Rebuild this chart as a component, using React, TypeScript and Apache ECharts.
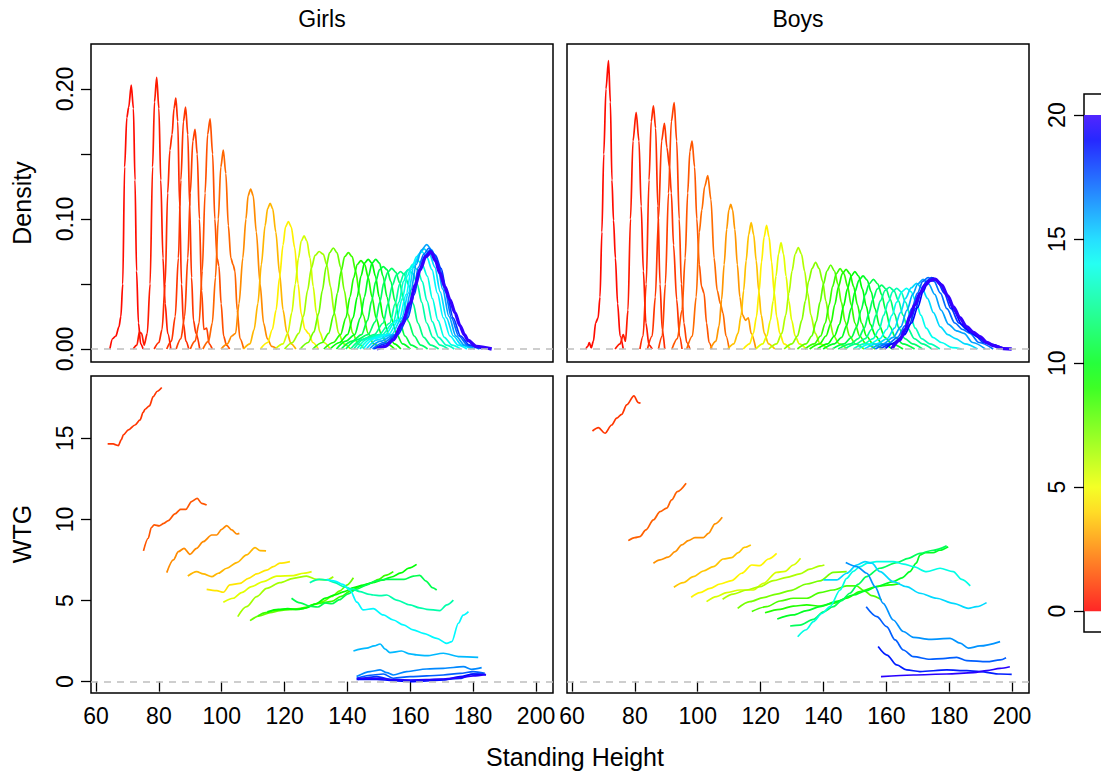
import { useEffect, useRef } from "react";
import * as echarts from "echarts";

type Pt = [number, number];

const FONT = "'Liberation Sans', Arial, Helvetica, sans-serif";

// ---------- axis ticks / labels ----------
const xTicks = [60, 80, 100, 120, 140, 160, 180, 200];
const xRange = [58.4, 205.4];
const densityTicks = [0, 0.05, 0.1, 0.15, 0.2];
const densityLabels = [0, 0.1, 0.2];
const densityRange = [-0.01, 0.2346];
const wtgTicks = [0, 5, 10, 15];
const wtgRange = [-0.7, 18.84];
const colorbarTicks = [0, 5, 10, 15, 20];
const colorbarRange = [0, 20];
const colorbarAxisRange = [-0.84, 20.85];
const colorbarLevels = [0, 1, 2, 3, 4, 5, 6, 7, 8, 9, 10, 11, 12, 13, 14, 15, 16, 17, 18, 19, 20];
const panelTitles = ["Girls", "Boys"];
const rowTitles = ["Density", "WTG"];
const xTitle = "Standing Height";

// ---------- Girls: density curves (x = height, y = density) ----------
const girlsDensityAge = [0.2, 0.5, 0.8, 1.0, 1.2, 1.5, 1.9, 2.6, 3.4, 4.5, 5.6, 6.5, 7.4, 8.3, 9.0, 9.6, 10.2, 10.8, 11.4, 12.0, 12.6, 13.2, 13.8, 14.4, 15.0, 16.0, 17.0, 18.0, 20.0];
const girlsDensity: Pt[][] = [
  [[64.4,0],[65.3,0.008],[66.3,0.010],[67.3,0.017],[67.9,0.025],[68.5,0.05],[69.1,0.14],[69.8,0.178],[70.4,0.186],[71.2,0.203],[71.9,0.185],[72.4,0.13],[72.9,0.06],[73.5,0.02],[74.2,0.004],[75.0,0]],
  [[71.8,0],[73.0,0.003],[73.8,0.013],[74.5,0.012],[75.3,0.003],[76.3,0.012],[77.2,0.05],[78.0,0.14],[78.6,0.19],[79.3,0.209],[80.0,0.185],[80.6,0.13],[81.3,0.07],[82.0,0.035],[82.8,0.012],[83.8,0]],
  [[78.5,0],[80.0,0.005],[81.0,0.015],[82.0,0.05],[82.8,0.12],[83.5,0.153],[84.2,0.165],[84.8,0.185],[85.4,0.193],[86.0,0.175],[86.6,0.11],[87.2,0.05],[87.8,0.02],[88.6,0.006],[89.5,0]],
  [[82.5,0],[84.0,0.006],[85.2,0.025],[86.2,0.07],[87.0,0.13],[87.8,0.175],[88.5,0.186],[89.2,0.165],[89.8,0.11],[90.4,0.055],[91.0,0.022],[91.8,0.012],[93.0,0]],
  [[85.5,0],[87.0,0.008],[88.2,0.025],[89.2,0.07],[90.0,0.12],[90.8,0.16],[91.5,0.169],[92.2,0.15],[92.9,0.1],[93.6,0.045],[94.3,0.015],[95.2,0.016],[96.0,0.004],[97.0,0]],
  [[90.0,0],[91.5,0.006],[92.8,0.02],[93.8,0.06],[94.7,0.12],[95.5,0.165],[96.3,0.177],[97.1,0.15],[97.8,0.1],[98.5,0.07],[99.1,0.064],[99.8,0.035],[100.6,0.01],[101.5,0.003],[102.5,0]],
  [[94.0,0],[95.8,0.006],[97.0,0.02],[98.0,0.055],[98.9,0.1],[99.7,0.14],[100.5,0.153],[101.3,0.135],[102.1,0.095],[102.9,0.07],[103.6,0.065],[104.2,0.06],[104.9,0.03],[105.8,0.008],[107.0,0]],
  [[99.8,0],[101.8,0.004],[103.2,0.01],[104.4,0.012],[105.5,0.035],[106.7,0.07],[107.7,0.1],[108.4,0.118],[109.2,0.123],[110.0,0.118],[111.0,0.09],[112.2,0.05],[113.3,0.02],[114.5,0.008],[115.9,0.002],[117.6,0]],
  [[106.9,0],[109.0,0.004],[110.3,0.015],[111.5,0.035],[112.6,0.065],[113.8,0.095],[114.6,0.108],[115.4,0.112],[116.2,0.108],[117.2,0.09],[118.4,0.058],[119.5,0.03],[120.7,0.013],[122.1,0.004],[123.6,0]],
  [[112.3,0],[114.6,0.005],[116.1,0.015],[117.3,0.03],[118.4,0.055],[119.5,0.08],[120.3,0.094],[121.2,0.098],[122.1,0.094],[123.2,0.078],[124.3,0.05],[125.3,0.027],[126.5,0.015],[127.6,0.012],[129.0,0.005],[130.7,0]],
  [[117.0,0],[119.5,0.004],[121.0,0.012],[122.3,0.028],[123.4,0.05],[124.4,0.07],[125.3,0.083],[126.2,0.087],[127.1,0.083],[128.1,0.07],[129.1,0.048],[130.1,0.028],[131.2,0.013],[132.5,0.005],[134.5,0]],
  [[120.0,0],[122.5,0.005],[124.5,0.012],[126.0,0.025],[127.3,0.045],[128.5,0.062],[129.7,0.072],[131.0,0.075],[132.3,0.073],[133.4,0.065],[134.6,0.048],[135.8,0.028],[137.2,0.012],[138.8,0.004],[141.0,0]],
  [[125.0,0],[127.5,0.005],[129.3,0.013],[130.8,0.027],[132.0,0.045],[133.2,0.063],[134.3,0.074],[135.5,0.0777],[136.7,0.074],[137.8,0.063],[139.0,0.045],[140.2,0.027],[141.7,0.012],[143.3,0.004],[145.5,0]],
  [[129.0,0],[132.0,0.005],[134.0,0.012],[135.6,0.026],[136.8,0.043],[138.0,0.06],[139.1,0.071],[140.3,0.0741],[141.5,0.071],[142.6,0.06],[143.8,0.043],[145.0,0.026],[146.6,0.012],[148.3,0.004],[150.5,0]],
  [[132.5,0],[135.5,0.005],[137.8,0.011],[139.5,0.024],[140.8,0.04],[142.0,0.055],[143.1,0.065],[144.3,0.068],[145.5,0.065],[146.6,0.055],[147.8,0.04],[149.1,0.024],[150.8,0.011],[152.6,0.004],[155.0,0]],
  [[134.5,0],[137.5,0.005],[140.0,0.011],[141.8,0.024],[143.1,0.04],[144.3,0.056],[145.4,0.066],[146.6,0.069],[147.8,0.066],[148.9,0.056],[150.1,0.04],[151.4,0.024],[153.1,0.011],[154.9,0.004],[157.0,0]],
  [[136.5,0],[139.5,0.006],[142.3,0.011],[144.1,0.024],[145.4,0.04],[146.7,0.056],[147.8,0.066],[149.0,0.069],[150.2,0.066],[151.3,0.056],[152.6,0.04],[153.9,0.024],[155.7,0.011],[157.5,0.004],[160.0,0]],
  [[138.0,0],[141.5,0.006],[144.5,0.011],[146.4,0.022],[147.7,0.037],[149.0,0.052],[150.2,0.061],[151.4,0.0634],[152.6,0.061],[153.8,0.052],[155.1,0.037],[156.5,0.022],[158.3,0.01],[160.3,0.003],[162.5,0]],
  [[139.5,0],[143.0,0.007],[146.5,0.011],[148.9,0.021],[150.3,0.036],[151.6,0.051],[152.8,0.059],[154.1,0.062],[155.4,0.059],[156.6,0.051],[158.0,0.036],[159.4,0.021],[161.2,0.01],[163.3,0.003],[165.5,0]],
  [[141.0,0],[144.5,0.007],[148.5,0.011],[151.4,0.02],[152.9,0.035],[154.3,0.049],[155.6,0.057],[156.9,0.0595],[158.2,0.057],[159.5,0.049],[160.9,0.035],[162.4,0.02],[164.3,0.009],[166.5,0.003],[169.0,0]],
  [[142.0,0],[145.5,0.008],[150.0,0.011],[153.5,0.02],[155.2,0.035],[156.6,0.05],[158.0,0.058],[159.4,0.061],[160.8,0.058],[162.2,0.05],[163.6,0.036],[165.2,0.02],[167.2,0.009],[169.5,0.003],[172.0,0]],
  [[143.0,0],[146.5,0.008],[151.0,0.011],[154.5,0.02],[156.4,0.036],[157.8,0.052],[159.3,0.061],[160.8,0.064],[162.3,0.061],[163.8,0.052],[165.3,0.037],[167.0,0.021],[169.0,0.009],[171.5,0.003],[174.0,0]],
  [[144.0,0],[147.5,0.008],[152.0,0.011],[155.5,0.022],[157.5,0.039],[159.0,0.056],[160.6,0.065],[162.2,0.0685],[163.8,0.065],[165.4,0.056],[167.0,0.039],[168.8,0.022],[170.8,0.009],[173.3,0.003],[176.0,0]],
  [[145.0,0],[148.5,0.008],[153.0,0.011],[156.5,0.023],[158.7,0.042],[160.3,0.061],[162.0,0.071],[163.6,0.075],[165.2,0.071],[166.9,0.061],[168.6,0.043],[170.5,0.024],[172.6,0.01],[175.2,0.003],[178.0,0]],
  [[146.0,0],[149.5,0.007],[154.0,0.011],[157.3,0.024],[159.4,0.043],[161.1,0.063],[162.8,0.073],[164.4,0.077],[166.1,0.073],[167.8,0.063],[169.5,0.044],[171.5,0.024],[173.7,0.01],[176.3,0.003],[179.5,0]],
  [[147.0,0],[150.5,0.006],[155.0,0.011],[158.2,0.025],[160.2,0.045],[161.9,0.065],[163.5,0.076],[165.2,0.0803],[166.9,0.076],[168.6,0.065],[170.3,0.046],[172.3,0.025],[174.5,0.01],[177.2,0.003],[180.5,0]],
  [[148.0,0],[151.5,0.005],[155.5,0.011],[158.8,0.024],[160.9,0.043],[162.6,0.063],[164.3,0.073],[165.9,0.0775],[167.6,0.073],[169.3,0.063],[171.1,0.044],[173.1,0.024],[175.4,0.01],[178.2,0.003],[182.0,0]],
  [[148.5,0],[152.0,0.004],[156.0,0.011],[159.2,0.024],[161.3,0.042],[163.0,0.062],[164.7,0.072],[166.3,0.076],[168.0,0.072],[169.8,0.062],[171.6,0.043],[173.6,0.024],[176.0,0.01],[178.8,0.003],[183.0,0]],
  [[149.3,0],[152.0,0.002],[154.6,0.007],[157.3,0.019],[159.9,0.035],[161.6,0.049],[163.1,0.061],[164.9,0.071],[166.6,0.0746],[168.0,0.068],[169.4,0.0585],[171.0,0.048],[172.6,0.038],[174.2,0.028],[175.8,0.018],[177.2,0.011],[178.4,0.0065],[181.0,0.002],[185.9,0]],
];

// ---------- Boys: density curves ----------
const boysDensityAge = [0.2, 0.5, 0.8, 1.0, 1.2, 1.6, 2.0, 2.8, 3.6, 4.5, 5.3, 6.2, 7.0, 7.8, 8.5, 9.0, 9.6, 10.2, 10.8, 11.5, 12.2, 13.0, 14.0, 15.0, 16.0, 17.0, 18.0, 19.0, 20.0];
const boysDensity: Pt[][] = [
  [[64.4,0],[65.0,0.002],[65.5,0.0049],[66.1,0.001],[66.8,0.006],[67.5,0.02],[68.3,0.024],[68.9,0.04],[69.5,0.09],[70.1,0.15],[70.8,0.2],[71.6,0.2218],[72.2,0.19],[72.7,0.13],[73.2,0.099],[73.8,0.07],[74.5,0.035],[75.3,0.01],[76.3,0]],
  [[73.7,0],[75.3,0.004],[76.3,0.011],[77.0,0.006],[77.8,0.03],[78.6,0.1],[79.4,0.16],[80.4,0.182],[81.3,0.16],[82.0,0.11],[82.7,0.06],[83.5,0.02],[84.5,0.003],[85.5,0]],
  [[81.6,0],[82.6,0.01],[83.6,0.05],[84.5,0.13],[85.2,0.175],[85.9,0.187],[86.6,0.17],[87.3,0.11],[88.0,0.05],[88.7,0.015],[89.5,0]],
  [[84.0,0],[85.5,0.01],[86.5,0.04],[87.5,0.1],[88.5,0.16],[89.4,0.1736],[90.2,0.155],[91.0,0.14],[91.6,0.12],[92.3,0.08],[93.3,0.038],[94.2,0.01],[95.0,0]],
  [[87.5,0],[88.7,0.01],[89.7,0.05],[90.7,0.12],[91.6,0.175],[92.5,0.1895],[93.3,0.16],[94.1,0.1],[94.8,0.05],[95.6,0.02],[96.5,0.005],[97.5,0]],
  [[91.8,0],[93.5,0.008],[95.0,0.03],[96.0,0.07],[96.8,0.12],[97.5,0.152],[98.2,0.16],[99.0,0.14],[99.7,0.1],[100.5,0.065],[101.2,0.048],[102.0,0.043],[102.8,0.02],[103.6,0.005],[104.5,0]],
  [[96.5,0],[98.3,0.01],[99.5,0.04],[100.5,0.09],[101.3,0.107],[102.2,0.125],[103.2,0.1333],[104.2,0.115],[105.2,0.07],[106.2,0.045],[107.2,0.035],[108.0,0.028],[109.0,0.01],[110.0,0]],
  [[104.0,0],[105.8,0.006],[106.8,0.018],[107.6,0.038],[108.4,0.065],[109.2,0.092],[109.9,0.107],[110.5,0.1113],[111.1,0.107],[111.8,0.092],[112.6,0.065],[113.4,0.04],[114.3,0.026],[115.2,0.022],[116.1,0.024],[117.0,0.012],[118.5,0]],
  [[109.5,0],[111.5,0.004],[112.8,0.012],[113.8,0.026],[114.6,0.045],[115.4,0.068],[116.2,0.088],[117.0,0.0972],[117.8,0.088],[118.6,0.068],[119.4,0.045],[120.2,0.026],[121.2,0.012],[122.5,0.004],[124.5,0]],
  [[114.5,0],[116.5,0.004],[117.7,0.012],[118.7,0.025],[119.5,0.044],[120.3,0.067],[121.1,0.086],[121.9,0.0951],[122.7,0.086],[123.5,0.067],[124.3,0.044],[125.1,0.025],[126.1,0.012],[127.4,0.004],[129.5,0]],
  [[118.5,0],[120.7,0.004],[122.0,0.01],[123.1,0.022],[124.0,0.037],[124.9,0.056],[125.7,0.073],[126.5,0.0818],[127.3,0.073],[128.1,0.056],[129.0,0.037],[129.9,0.022],[131.0,0.01],[132.3,0.004],[134.5,0]],
  [[122.6,0],[125.1,0.004],[126.75,0.012],[128.0,0.026],[129.0,0.043],[130.0,0.06],[131.0,0.073],[132.0,0.078],[133.0,0.073],[134.0,0.06],[135.0,0.043],[136.0,0.026],[137.4,0.012],[138.9,0.004],[141.4,0]],
  [[127.5,0],[130.0,0.004],[131.75,0.01],[133.1,0.022],[134.25,0.037],[135.25,0.052],[136.4,0.062],[137.5,0.0667],[138.6,0.062],[139.75,0.052],[140.75,0.037],[141.9,0.022],[143.25,0.01],[145.0,0.004],[147.5,0]],
  [[131.7,0],[134.5,0.004],[136.3,0.01],[137.7,0.021],[138.9,0.036],[140.0,0.05],[141.1,0.06],[142.3,0.0646],[143.5,0.06],[144.6,0.05],[145.7,0.036],[146.9,0.021],[148.3,0.01],[150.1,0.004],[152.9,0]],
  [[134.1,0],[137.1,0.004],[139.1,0.01],[140.6,0.02],[141.8,0.034],[142.9,0.048],[144.1,0.058],[145.3,0.0618],[146.5,0.058],[147.7,0.048],[148.8,0.034],[150.0,0.02],[151.5,0.01],[153.5,0.004],[156.5,0]],
  [[135.6,0],[138.8,0.004],[140.8,0.01],[142.4,0.02],[143.6,0.034],[144.8,0.048],[146.0,0.058],[147.2,0.0613],[148.4,0.058],[149.6,0.048],[150.8,0.034],[152.1,0.02],[153.7,0.01],[155.7,0.004],[158.8,0]],
  [[138.0,0],[141.4,0.004],[143.5,0.01],[145.1,0.019],[146.4,0.033],[147.6,0.046],[148.8,0.056],[150.0,0.0595],[151.2,0.056],[152.4,0.046],[153.6,0.033],[154.9,0.019],[156.6,0.01],[158.6,0.004],[162.0,0]],
  [[139.9,0],[143.5,0.004],[145.8,0.009],[147.4,0.018],[148.8,0.031],[150.0,0.044],[151.3,0.053],[152.6,0.0562],[153.9,0.053],[155.2,0.044],[156.4,0.031],[157.8,0.018],[159.5,0.009],[161.7,0.004],[165.3,0]],
  [[142.8,0],[146.6,0.004],[148.9,0.009],[150.6,0.017],[152.0,0.03],[153.3,0.042],[154.5,0.05],[155.9,0.0536],[157.3,0.05],[158.5,0.042],[159.8,0.03],[161.2,0.017],[162.9,0.009],[165.2,0.004],[169.0,0]],
  [[144.7,0],[148.7,0.004],[151.1,0.008],[153.0,0.016],[154.4,0.027],[155.7,0.038],[157.1,0.046],[158.5,0.0492],[159.9,0.046],[161.3,0.038],[162.6,0.027],[164.0,0.016],[165.9,0.008],[168.3,0.004],[171.5,0]],
  [[146.7,0],[150.5,0.004],[153.3,0.008],[155.3,0.015],[156.7,0.026],[158.1,0.037],[159.6,0.045],[161.0,0.0475],[162.4,0.045],[163.9,0.037],[165.3,0.026],[166.8,0.016],[168.9,0.008],[171.4,0.004],[174.5,0]],
  [[149.5,0],[153.0,0.004],[155.8,0.008],[157.7,0.015],[159.2,0.026],[160.6,0.036],[162.0,0.044],[163.3,0.0467],[164.7,0.044],[166.1,0.036],[167.6,0.026],[169.2,0.016],[171.2,0.008],[173.8,0.004],[177.0,0]],
  [[151.0,0],[155.0,0.004],[158.0,0.008],[160.1,0.015],[161.8,0.026],[163.3,0.036],[164.9,0.044],[166.4,0.0467],[167.9,0.044],[169.5,0.036],[171.0,0.026],[172.7,0.016],[174.8,0.009],[177.5,0.005],[181.0,0.001],[184.0,0]],
  [[153.0,0],[157.0,0.004],[160.3,0.008],[162.6,0.016],[164.5,0.028],[166.1,0.039],[167.9,0.047],[169.6,0.0505],[171.3,0.047],[173.1,0.039],[175.0,0.028],[177.2,0.017],[179.6,0.011],[182.0,0.008],[185.0,0.004],[189.0,0]],
  [[155.0,0],[159.0,0.004],[162.2,0.009],[164.6,0.017],[166.6,0.03],[168.4,0.042],[170.0,0.05],[171.7,0.0536],[173.5,0.05],[175.4,0.042],[177.4,0.03],[179.8,0.019],[182.3,0.014],[184.7,0.012],[187.5,0.005],[191.5,0]],
  [[156.5,0],[160.5,0.004],[163.6,0.009],[166.0,0.018],[168.1,0.031],[169.9,0.043],[171.6,0.052],[173.3,0.055],[175.2,0.052],[177.2,0.043],[179.3,0.031],[181.8,0.02],[184.3,0.015],[186.6,0.012],[189.5,0.005],[194.0,0]],
  [[158.0,0],[161.8,0.004],[164.8,0.009],[167.2,0.018],[169.3,0.031],[171.0,0.043],[172.7,0.052],[174.4,0.055],[176.3,0.052],[178.4,0.043],[180.6,0.031],[183.1,0.02],[185.6,0.015],[188.0,0.011],[191.0,0.005],[196.0,0]],
  [[159.5,0],[163.0,0.005],[165.8,0.011],[168.0,0.02],[170.0,0.032],[171.7,0.044],[173.3,0.052],[175.0,0.0545],[177.0,0.051],[179.1,0.042],[181.4,0.03],[184.0,0.019],[186.6,0.013],[189.2,0.009],[192.5,0.004],[198.0,0]],
  [[161.7,0],[164.3,0.0069],[166.0,0.015],[167.5,0.0249],[169.1,0.034],[170.7,0.0428],[172.3,0.049],[173.9,0.0526],[175.5,0.0536],[177.6,0.0492],[179.5,0.041],[181.3,0.0326],[183.4,0.024],[185.5,0.0172],[187.6,0.013],[189.8,0.0095],[192.0,0.005],[194.0,0.0027],[197.2,0.0003],[199.9,0]],
];

// ---------- Girls: WTG curves ----------
const girlsWtgAge = [1.0, 1.6, 2.6, 3.4, 4.3, 5.3, 6.5, 7.6, 8.5, 9.6, 11.0, 12.7, 14.4, 15.6, 16.5, 17.3, 18.1, 18.9, 19.8];
const girlsWtg: Pt[][] = [
  [[63.7,14.65],[65.5,14.65],[66.3,14.6],[67.1,14.55],[68.0,14.9],[68.7,15.21],[70.3,15.52],[72.4,15.82],[74.0,16.13],[75.0,16.6],[75.6,16.79],[77.0,17.0],[78.2,17.57],[79.5,17.9],[80.9,18.13]],
  [[75.1,8.06],[76.6,8.84],[77.6,9.5],[78.5,9.66],[80.1,9.6],[81.6,9.76],[83.0,9.93],[85.1,10.34],[86.9,10.62],[88.6,10.62],[90.4,11.1],[92.2,11.3],[93.6,10.99],[95.2,10.89]],
  [[82.5,6.72],[84.6,7.5],[86.2,8.01],[88.0,8.22],[89.9,7.85],[92.0,8.22],[94.1,8.63],[96.8,9.04],[98.4,9.04],[100.0,9.39],[101.6,9.62],[103.2,9.35],[104.8,9.1],[105.6,9.14]],
  [[89.2,6.51],[92.0,6.78],[94.1,6.64],[96.8,6.47],[98.9,6.68],[101.6,6.99],[104.8,7.34],[107.9,7.81],[110.6,8.26],[112.2,8.08],[114.1,8.06]],
  [[95.2,5.69],[98.4,5.61],[100.5,5.51],[102.6,5.96],[105.8,6.06],[108.5,6.37],[111.1,6.64],[114.3,6.88],[116.4,7.09],[118.5,7.3],[121.7,7.4]],
  [[100.5,4.89],[103.7,5.14],[106.3,5.49],[109.5,5.86],[113.2,6.17],[117.5,6.51],[122.8,6.54],[126.0,6.68],[128.6,6.78]],
  [[105.1,4.01],[107.9,4.62],[111.1,5.24],[114.3,5.75],[118.5,6.1],[122.8,6.37],[127.0,6.51],[130.2,6.31],[133.4,6.27],[135.5,6.47]],
  [[109.0,3.76],[112.0,4.05],[115.4,4.25],[118.5,4.38],[121.7,4.45],[124.5,4.5],[127.0,4.6],[130.0,4.8],[132.3,4.95],[135.0,5.25],[137.6,5.6],[139.8,5.95],[141.9,6.4]],
  [[111.5,4.05],[114.0,4.25],[117.0,4.4],[120.0,4.45],[123.0,4.45],[126.0,4.5],[129.0,4.75],[132.0,4.85],[135.0,4.95],[138.0,5.25],[141.0,5.6],[144.0,5.85],[147.0,6.05],[150.0,6.3],[152.0,6.55],[154.6,6.78]],
  [[114.5,4.3],[118.0,4.45],[121.0,4.5],[124.0,4.45],[127.0,4.55],[130.0,4.8],[133.0,5.15],[136.0,5.35],[139.0,5.55],[142.0,5.8],[145.0,5.95],[148.0,6.1],[151.0,6.25],[154.0,6.45],[157.0,6.7],[159.5,7.0],[162.0,7.23]],
  [[122.2,5.14],[125.0,4.85],[128.0,4.65],[130.5,4.6],[133.0,4.85],[135.0,4.8],[137.5,5.05],[140.0,5.4],[143.0,5.7],[146.0,5.95],[149.0,6.2],[152.0,6.3],[155.0,6.3],[158.0,6.3],[161.0,6.5],[163.0,6.55],[165.0,6.2],[167.0,5.8],[168.4,5.65]],
  [[128.0,6.1],[131.0,6.3],[133.4,6.27],[136.0,6.1],[138.7,5.86],[141.5,5.7],[144.0,5.55],[146.5,5.4],[148.2,5.34],[150.5,5.3],[152.5,5.34],[155.6,5.03],[159.9,4.73],[163.0,4.55],[165.2,4.46],[169.4,4.38],[171.6,4.73],[173.7,5.03]],
  [[133.4,6.3],[136.0,6.2],[138.5,6.0],[140.8,5.65],[143.0,4.9],[145.0,4.42],[148.2,4.5],[151.4,4.11],[154.6,3.8],[157.8,3.5],[160.9,3.19],[164.1,2.98],[168.4,2.67],[171.6,2.36],[173.2,2.47],[175.3,3.6],[176.8,4.1],[178.5,4.32]],
  [[141.9,1.89],[146.1,2.06],[148.5,2.2],[150.4,2.32],[152.0,2.0],[153.5,1.79],[157.2,1.89],[159.9,1.71],[162.0,1.65],[165.2,1.6],[170.5,1.75],[175.8,1.54],[181.6,1.5]],
  [[142.9,0.31],[147.2,0.62],[150.4,0.72],[152.5,0.55],[154.6,0.41],[158.8,0.62],[165.2,0.78],[170.5,0.82],[176.9,0.92],[179.5,0.76],[182.7,0.86]],
  [[142.9,0.21],[148.2,0.41],[151.4,0.47],[154.6,0.21],[159.9,0.31],[165.2,0.35],[170.5,0.41],[175.8,0.51],[180.0,0.62],[183.7,0.51]],
  [[143.4,0.14],[149.3,0.31],[154.6,0.1],[159.9,0.06],[165.2,0.1],[170.5,0.14],[175.8,0.2],[180.0,0.47],[183.2,0.47]],
  [[142.9,0.14],[149.3,0.14],[154.6,0.06],[159.9,0.0],[165.2,0.04],[170.5,0.1],[175.8,0.31],[180.0,0.47],[184.1,0.41]],
  [[143.0,0.2],[150.0,0.2],[155.0,0.12],[160.0,0.1],[165.0,0.12],[170.0,0.15],[176.0,0.25],[180.0,0.35],[184.0,0.45]],
];

// ---------- Boys: WTG curves ----------
const boysWtgAge = [1.0, 1.8, 2.7, 3.7, 4.6, 5.5, 6.3, 7.3, 8.1, 8.9, 10.2, 11.2, 13.8, 15.0, 16.3, 17.3, 18.5, 19.8];
const boysWtg: Pt[][] = [
  [[66.5,15.45],[68.4,15.66],[70.5,15.31],[72.6,15.82],[74.2,16.24],[75.8,16.48],[77.4,17.06],[79.7,17.61],[81.1,17.2],[81.8,17.16]],
  [[77.9,8.69],[80.0,8.88],[81.6,8.94],[83.5,9.35],[85.9,9.97],[88.0,10.48],[90.1,10.69],[91.7,11.2],[93.5,11.71],[96.3,12.23]],
  [[85.9,7.3],[88.0,7.5],[90.6,7.67],[92.8,8.01],[94.9,8.43],[97.0,8.69],[99.1,8.88],[101.8,8.88],[103.4,9.14],[105.5,9.72],[107.8,10.13]],
  [[92.4,5.82],[95.4,6.1],[98.6,6.47],[101.8,6.82],[105.0,7.09],[108.1,7.56],[110.8,7.64],[112.9,7.95],[114.8,8.28],[116.9,8.43]],
  [[97.9,5.2],[100.7,5.49],[103.9,5.75],[107.1,6.02],[110.8,6.23],[114.0,6.68],[117.2,7.19],[119.8,7.15],[122.5,7.56],[125.1,7.91]],
  [[102.8,4.93],[106.0,5.24],[109.2,5.49],[113.4,5.65],[117.7,5.65],[120.9,6.06],[125.1,6.74],[127.8,6.8],[130.4,7.19],[132.7,7.6]],
  [[107.9,5.08],[111.3,5.4],[115.6,5.65],[119.8,5.86],[124.1,6.23],[128.3,6.43],[132.5,6.64],[135.7,6.93],[138.9,7.13],[140.3,7.19]],
  [[112.7,4.52],[116.6,4.93],[120.9,5.18],[125.1,5.4],[129.4,5.61],[134.7,6.02],[138.9,6.21],[143.1,6.74],[147.4,6.78]],
  [[117.2,4.32],[121.9,4.62],[126.2,4.97],[130.4,5.14],[134.7,5.14],[138.9,5.49],[143.1,5.65],[147.4,5.9],[150.5,5.9],[153.0,5.6],[155.3,5.3],[158.5,5.04]],
  [[121.4,4.25],[126.2,4.46],[130.4,4.66],[134.7,4.73],[138.9,4.66],[143.1,4.83],[147.4,5.14],[151.6,5.55],[156.9,5.86],[161.2,5.96],[164.3,6.06]],
  [[125.3,3.86],[130.4,4.11],[134.7,4.38],[138.9,4.62],[144.2,4.95],[149.5,5.34],[153.5,5.6],[156.9,5.86],[162.2,6.17],[165.0,6.4],[167.5,6.78],[169.5,7.3],[170.7,7.8],[172.5,7.95],[174.9,7.95],[177.0,8.1],[179.7,8.32]],
  [[129.4,3.43],[132.5,3.49],[136.8,3.84],[140.0,4.3],[143.1,4.62],[145.8,5.0],[148.4,5.45],[151.0,6.0],[153.7,6.47],[157.9,6.99],[163.3,7.34],[167.0,7.6],[170.7,7.91],[174.9,8.1],[179.2,8.37]],
  [[131.8,2.77],[134.5,3.2],[136.8,3.7],[139.5,4.2],[142.1,4.63],[145.3,5.65],[147.4,6.37],[149.5,6.8],[151.6,7.09],[154.0,7.3],[156.9,7.4],[162.2,7.4],[165.5,7.25],[168.6,7.09],[172.8,6.78],[177.1,6.99],[181.3,6.78],[184.0,6.3],[186.7,5.9]],
  [[140.0,6.27],[144.2,6.27],[147.4,6.68],[150.6,7.19],[153.2,7.4],[155.4,7.3],[158.0,6.78],[162.2,6.16],[166.4,5.86],[170.7,5.45],[176.0,5.14],[181.3,4.83],[186.1,4.52],[188.7,4.62],[191.9,4.87]],
  [[147.1,7.34],[150.6,7.09],[153.8,6.68],[156.4,5.86],[159.0,4.83],[162.2,3.8],[165.4,3.09],[168.6,2.73],[173.9,2.61],[180.3,2.67],[183.5,2.37],[186.1,2.06],[189.8,2.2],[196.2,2.47]],
  [[153.6,4.62],[157.0,4.01],[160.1,3.39],[162.8,2.57],[165.4,1.95],[168.6,1.54],[173.9,1.38],[178.0,1.42],[182.4,1.5],[185.6,1.3],[192.0,1.23],[196.2,1.34],[198.1,1.48]],
  [[157.4,2.16],[160.2,1.64],[163.3,1.03],[166.5,0.72],[170.7,0.62],[179.2,0.72],[185.6,0.68],[189.8,0.62],[196.2,0.47],[199.9,0.45]],
  [[158.3,0.31],[168.6,0.41],[179.2,0.47],[187.7,0.55],[192.0,0.68],[196.2,0.82],[199.3,0.92]],
];

// ---------- colour scale (rainbow, red at 0 -> violet-blue at 20) ----------
function rainbow(v: number, whiten = 0): string {
  const h = (Math.max(0, Math.min(20, v)) / 20) * 0.7 * 6;
  const i = Math.floor(h) % 6;
  const f = h - Math.floor(h);
  let r = 0, g = 0, b = 0;
  if (i === 0) { r = 1; g = f; b = 0; }
  else if (i === 1) { r = 1 - f; g = 1; b = 0; }
  else if (i === 2) { r = 0; g = 1; b = f; }
  else if (i === 3) { r = 0; g = 1 - f; b = 1; }
  else if (i === 4) { r = f; g = 0; b = 1; }
  else { r = 1; g = 0; b = 1 - f; }
  const c = (x: number) => Math.round((x + (1 - x) * whiten) * 255);
  return `rgb(${c(r)},${c(g)},${c(b)})`;
}

const zeroMark = {
  silent: true,
  symbol: ["none", "none"],
  label: { show: false },
  animation: false,
  lineStyle: { color: "#bebebe", type: [7, 6], width: 1.6 },
  data: [{ yAxis: 0 }],
};

function curveSeries(curves: Pt[][], ages: number[], idx: number, thickLast: boolean) {
  return curves.map((pts, k) => ({
    type: "line",
    xAxisIndex: idx,
    yAxisIndex: idx,
    data: pts,
    symbol: "none",
    showSymbol: false,
    smooth: 0.3,
    smoothMonotone: "x",
    silent: true,
    lineStyle: {
      color: rainbow(ages[k]),
      width: thickLast && k === curves.length - 1 ? 3.4 : 1.7,
    },
    ...(k === 0 ? { markLine: zeroMark } : {}),
  }));
}

function xAxisFor(i: number, labelled: boolean) {
  return {
    type: "value",
    gridIndex: i,
    min: xRange[0],
    max: xRange[1],
    axisLine: { show: false },
    splitLine: { show: false },
    axisTick: { show: labelled, customValues: xTicks, length: 10, lineStyle: { color: "#000", width: 1.3 } },
    axisLabel: { show: labelled, customValues: xTicks, margin: 11, fontSize: 23, color: "#000", fontFamily: FONT },
  };
}

function yAxisFor(i: number, range: number[], ticks: number[], labels: number[], labelled: boolean, fmt?: (v: number) => string) {
  return {
    type: "value",
    gridIndex: i,
    min: range[0],
    max: range[1],
    position: "left",
    axisLine: { show: false },
    splitLine: { show: false },
    axisTick: { show: labelled, customValues: ticks, length: 10, lineStyle: { color: "#000", width: 1.3 } },
    axisLabel: {
      show: labelled,
      customValues: labels,
      rotate: 90,
      margin: 15,
      fontSize: 23,
      color: "#000",
      fontFamily: FONT,
      ...(fmt ? { formatter: fmt } : {}),
    },
  };
}

export default function App() {
  const ref = useRef<HTMLDivElement>(null);

  useEffect(() => {
    if (!ref.current) return;
    const chart = echarts.init(ref.current, undefined, { renderer: "svg" });

    const gridBase = { show: true, borderColor: "#000", borderWidth: 1.5, backgroundColor: "transparent", containLabel: false, outerBoundsMode: "none" };
    const grids = [
      { left: 91, top: 44, width: 462, height: 318 },
      { left: 567, top: 44, width: 462, height: 318 },
      { left: 91, top: 376, width: 462, height: 317 },
      { left: 567, top: 376, width: 462, height: 317 },
      { left: 1084, top: 94, width: 40, height: 538 },
    ].map((g) => ({ ...gridBase, ...g }));

    const fmt2 = (v: number) => v.toFixed(2);
    const stops = colorbarLevels.map((v) => ({ offset: v / 20, color: rainbow(v, 0.15) }));

    const option: any = {
      animation: false,
      backgroundColor: "#fff",
      textStyle: { fontFamily: FONT },
      grid: grids,
      xAxis: [
        xAxisFor(0, false),
        xAxisFor(1, false),
        xAxisFor(2, true),
        xAxisFor(3, true),
        { type: "value", gridIndex: 4, min: 0, max: 1, show: false },
      ],
      yAxis: [
        yAxisFor(0, densityRange, densityTicks, densityLabels, true, fmt2),
        yAxisFor(1, densityRange, densityTicks, densityLabels, false, fmt2),
        yAxisFor(2, wtgRange, wtgTicks, wtgTicks, true),
        yAxisFor(3, wtgRange, wtgTicks, wtgTicks, false),
        { ...yAxisFor(4, colorbarAxisRange, colorbarTicks, colorbarTicks, true), axisLabel: { show: true, customValues: colorbarTicks, rotate: 90, margin: 16, fontSize: 23, color: "#000", fontFamily: FONT } },
      ],
      series: [
        ...curveSeries(girlsDensity, girlsDensityAge, 0, true),
        ...curveSeries(boysDensity, boysDensityAge, 1, true),
        ...curveSeries(girlsWtg, girlsWtgAge, 2, false),
        ...curveSeries(boysWtg, boysWtgAge, 3, false),
        {
          type: "custom",
          xAxisIndex: 4,
          yAxisIndex: 4,
          silent: true,
          data: [[colorbarRange[0], colorbarRange[1]]],
          renderItem: (_params: any, api: any) => {
            const top = api.coord([0, colorbarRange[1]]);
            const bottom = api.coord([1, colorbarRange[0]]);
            return {
              type: "rect",
              shape: { x: top[0], y: top[1], width: bottom[0] - top[0], height: bottom[1] - top[1] },
              style: { fill: new echarts.graphic.LinearGradient(0, 1, 0, 0, stops) },
            };
          },
        },
      ],
      graphic: [
        { type: "text", x: 322, y: 19, style: { text: panelTitles[0], fontSize: 23, fontFamily: FONT, fill: "#000", align: "center", verticalAlign: "middle", textAlign: "center", textVerticalAlign: "middle" } },
        { type: "text", x: 798, y: 19, style: { text: panelTitles[1], fontSize: 23, fontFamily: FONT, fill: "#000", align: "center", verticalAlign: "middle", textAlign: "center", textVerticalAlign: "middle" } },
        { type: "text", x: 22, y: 203, rotation: Math.PI / 2, style: { text: rowTitles[0], fontSize: 25, fontFamily: FONT, fill: "#000", align: "center", verticalAlign: "middle", textAlign: "center", textVerticalAlign: "middle" } },
        { type: "text", x: 22, y: 534, rotation: Math.PI / 2, style: { text: rowTitles[1], fontSize: 25, fontFamily: FONT, fill: "#000", align: "center", verticalAlign: "middle", textAlign: "center", textVerticalAlign: "middle" } },
        { type: "text", x: 575, y: 757, style: { text: xTitle, fontSize: 25, fontFamily: FONT, fill: "#000", align: "center", verticalAlign: "middle", textAlign: "center", textVerticalAlign: "middle" } },
      ],
    };

    chart.setOption(option);
    return () => chart.dispose();
  }, []);

  return (
    <div
      ref={ref}
      style={{ position: "absolute", left: 0, top: 0, width: 1101, height: 775, background: "#fff" }}
    />
  );
}
